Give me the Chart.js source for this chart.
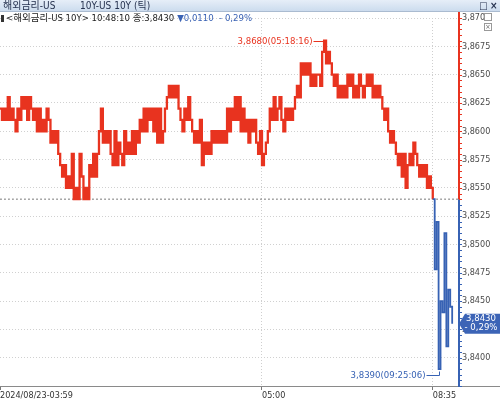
<!DOCTYPE html>
<html><head><meta charset="utf-8">
<script src="https://cdn.jsdelivr.net/npm/chart.js@4"></script>
<style>
html,body{margin:0;padding:0;background:#fff;}
#wrap{position:relative;width:500px;height:399px;overflow:hidden;font-family:"Liberation Sans Narrow","DejaVu Sans Condensed","Noto Sans CJK KR",sans-serif;}
#c{position:absolute;left:0;top:0;}
#bar{position:absolute;left:0;top:0;width:500px;height:11px;background:linear-gradient(#e6eef8,#ccdcee);border-bottom:1px solid #aabbd0;font-size:10px;line-height:11px;color:#26324f;}
#bar span{position:absolute;top:0;white-space:nowrap;}
#info{position:absolute;left:0;top:12px;height:11px;font-size:9.5px;line-height:11px;color:#222;white-space:nowrap;}
#info .blk{display:inline-block;width:3px;height:7px;background:#333;margin:0 2px 0 1px;vertical-align:-1px;}
#info .chg{color:#3a62b4;margin-left:3px;}
#icons{position:absolute;left:484px;top:13px;font-size:8px;line-height:8px;color:#666;}
#icons span{display:inline-block;width:6px;height:6px;border:1px solid #999;margin-right:1px;text-align:center;font-size:7px;line-height:6px;}
</style></head>
<body><div id="wrap">
<canvas id="c" width="500" height="399"></canvas>
<div id="bar"><span style="left:3px">해외금리-US</span><span style="left:80px">10Y-US 10Y (틱)</span><span style="left:479px;font-weight:bold">□</span><span style="left:490px;font-weight:bold">×</span></div>
<div id="info"></div>
<div id="icons"><span></span><span>×</span></div>
</div>
<script>
const yields = [
3.862,3.861,3.862,3.861,
3.863,
3.861,3.862,3.861,
3.860,3.862,
3.861,
3.863,3.862,3.863,3.861,3.863,3.862,
3.861,3.862,
3.860,3.862,3.860,
3.861,
3.860,3.862,3.861,
3.859,3.860,3.859,3.860,
3.858,3.857,
3.856,3.857,
3.855,3.856,3.855,3.858,3.854,3.855,3.854,3.858,3.856,3.854,3.855,3.854,
3.857,3.856,3.858,3.856,3.858,
3.860,3.862,
3.859,3.860,3.859,3.860,
3.858,3.857,3.860,3.857,3.859,3.858,3.857,3.860,3.858,
3.859,3.858,3.860,3.858,3.860,
3.859,3.861,
3.860,3.862,3.860,3.862,3.861,3.862,3.860,
3.862,3.859,3.862,3.859,
3.860,3.862,
3.863,
3.864,3.863,3.864,3.863,3.864,
3.862,3.861,3.860,3.862,3.861,3.863,3.861,
3.860,3.859,3.860,3.859,3.861,3.857,3.859,3.858,3.859,3.858,3.860,3.859,3.860,3.859,3.860,3.859,3.860,3.859,
3.862,3.860,3.862,
3.861,3.863,3.861,
3.863,3.860,3.862,
3.860,3.861,3.859,3.861,3.860,3.861,
3.859,3.858,3.860,
3.857,3.858,
3.859,3.860,
3.862,3.861,3.863,3.861,3.862,3.863,3.861,3.860,
3.862,3.861,3.862,3.861,3.862,
3.863,3.864,3.863,
3.866,3.865,3.866,3.865,3.866,
3.864,3.865,3.864,3.865,
3.865,3.864,
3.867,3.868,3.866,3.867,3.866,
3.865,3.864,3.865,
3.863,3.864,3.863,3.864,3.863,
3.865,3.864,3.865,
3.863,3.864,3.863,
3.865,3.864,3.863,3.864,3.865,3.864,3.865,
3.863,3.864,3.863,3.864,3.863,
3.862,3.861,3.862,
3.860,3.859,3.860,3.859,
3.858,3.857,3.858,
3.856,3.858,3.855,
3.857,3.858,3.857,3.859,3.858,3.857,
3.856,3.857,3.856,3.857,
3.855,3.856,3.855,
3.854,
3.8478,3.852,3.839,3.845,3.844,3.851,3.841,3.846,3.8445,3.843
];
const prevClose = 3.854;
const slotCount = 237;
const xTickIndex = [0, 135, 223];
const xTickLabels = ['2024/08/23-03:59', '05:00', '08:35'];
const yTickValues = [3.8375,3.8400,3.8425,3.8450,3.8475,3.8500,3.8525,3.8550,3.8575,3.8600,3.8625,3.8650,3.8675,3.8700];
const yTickLabels = ['','3,8400','3,8425','3,8450','3,8475','3,8500','3,8525','3,8550','3,8575','3,8600','3,8625','3,8650','3,8675','3,870'];
const lastPrice = '3,8430', lastTime = '10:48:10', changeText = '▼0,0110', pctText = '- 0,29%';
const seriesName = '<해외금리-US 10Y>';
const maxTime = '05:18:16', minTime = '09:25:06';

const RED = '#e8331f', BLUE = '#3762b4';
const FONT = '"Liberation Sans Narrow","DejaVu Sans Condensed","Noto Sans CJK KR",sans-serif';

document.getElementById('info').innerHTML =
  '<span class="blk"></span>' + seriesName.replace(/</g,'&lt;').replace(/>/g,'&gt;') + ' ' + lastTime + ' 종:' + lastPrice +
  '<span class="chg">' + changeText + '&nbsp; ' + pctText + '</span>';

const labels = Array.from({length: slotCount}, () => '');
const fmt = v => v.toFixed(4).replace('.', ',');
const below = c => c.p0.parsed.y < prevClose || c.p1.parsed.y < prevClose;

const deco = {
  id: 'deco',
  afterDraw(chart) {
    const {ctx, chartArea: a, scales: {x: xs, y: ys}} = chart;
    const prevY = ys.getPixelForValue(prevClose);
    ctx.save();
    ctx.strokeStyle = '#8a8a8a'; ctx.lineWidth = 1;
    ctx.beginPath(); ctx.moveTo(0, a.bottom + 0.5); ctx.lineTo(500, a.bottom + 0.5); ctx.stroke();
    const ax = a.right + 1;
    ctx.lineWidth = 2;
    ctx.strokeStyle = RED; ctx.beginPath(); ctx.moveTo(ax, 12); ctx.lineTo(ax, prevY); ctx.stroke();
    ctx.strokeStyle = BLUE; ctx.beginPath(); ctx.moveTo(ax, prevY); ctx.lineTo(ax, a.bottom + 1); ctx.stroke();
    ctx.lineWidth = 1;
    for (let k = 0; k <= 65; k++) {
      const v = 3.8375 + k * 0.0005;
      const py = Math.round(ys.getPixelForValue(v)) + 0.5;
      ctx.strokeStyle = v >= prevClose ? RED : BLUE;
      ctx.beginPath(); ctx.moveTo(ax, py); ctx.lineTo(ax + 3, py); ctx.stroke();
    }
    let maxI = 0, minI = 0;
    yields.forEach((v, i) => { if (v > yields[maxI]) maxI = i; if (v < yields[minI]) minI = i; });
    ctx.font = '9.5px ' + FONT;
    ctx.textBaseline = 'middle'; ctx.textAlign = 'right';
    const mx = Math.round(xs.getPixelForValue(maxI)) + 0.5, my = Math.round(ys.getPixelForValue(yields[maxI])) + 0.5;
    ctx.strokeStyle = RED; ctx.fillStyle = RED;
    ctx.beginPath(); ctx.moveTo(mx - 11, my); ctx.lineTo(mx, my); ctx.lineTo(mx, my + 3); ctx.stroke();
    ctx.fillText(fmt(yields[maxI]) + '(' + maxTime + ')', mx - 12, my);
    const nx = Math.round(xs.getPixelForValue(minI)) + 0.5, ny = Math.round(ys.getPixelForValue(yields[minI])) + 6.5;
    ctx.strokeStyle = BLUE; ctx.fillStyle = BLUE;
    ctx.beginPath(); ctx.moveTo(nx - 13, ny); ctx.lineTo(nx, ny); ctx.lineTo(nx, ny - 4); ctx.stroke();
    ctx.fillText(fmt(yields[minI]) + '(' + minTime + ')', nx - 14, ny);
    const ly = ys.getPixelForValue(yields[yields.length - 1]);
    ctx.fillStyle = '#3c64b6';
    ctx.beginPath();
    ctx.moveTo(ax, ly); ctx.lineTo(ax + 6, ly - 10); ctx.lineTo(500, ly - 10); ctx.lineTo(500, ly + 10); ctx.lineTo(ax + 6, ly + 10); ctx.closePath(); ctx.fill();
    ctx.fillStyle = '#fff'; ctx.textAlign = 'center';
    ctx.fillText(lastPrice, 481, ly - 5);
    ctx.fillText(pctText, 481, ly + 4);
    ctx.restore();
  }
};

new Chart(document.getElementById('c'), {
  type: 'line',
  data: {
    labels,
    datasets: [{
      data: yields,
      borderWidth: 2.3,
      borderColor: RED,
      pointRadius: 0,
      stepped: true,
      order: 1,
      segment: {
        borderColor: c => below(c) ? BLUE : RED,
        borderWidth: c => below(c) ? 1.8 : 2.3
      }
    }, {
      data: labels.map(() => prevClose),
      borderColor: '#777',
      borderWidth: 1,
      borderDash: [2, 2],
      pointRadius: 0,
      order: 2
    }]
  },
  options: {
    responsive: false,
    animation: false,
    events: [],
    layout: {padding: {top: 18, left: 0, right: 0, bottom: 0}},
    plugins: {legend: {display: false}, tooltip: {enabled: false}},
    scales: {
      x: {
        type: 'category',
        offset: false,
        afterBuildTicks: s => { s.ticks = xTickIndex.map(i => ({value: i})); },
        afterFit: s => { s.height = 13; },
        ticks: {
          autoSkip: false, maxRotation: 0, align: 'start', padding: 0,
          color: '#333', font: {family: FONT, size: 9},
          callback: (v, i) => xTickLabels[i]
        },
        grid: {
          color: c => c.index === 0 ? 'rgba(0,0,0,0)' : '#cfcfcf',
          tickColor: '#777', tickLength: 4, drawTicks: true
        },
        border: {display: false, dash: [1, 2]}
      },
      y: {
        position: 'right',
        min: 3.8375, max: 3.8700,
        afterBuildTicks: s => { s.ticks = yTickValues.map(v => ({value: v})); },
        afterFit: s => { s.width = 42; },
        ticks: {
          padding: 4, color: '#4a4a4a', font: {family: FONT, size: 9},
          callback: (v, i) => yTickLabels[i]
        },
        grid: {color: '#d0d0d0', drawTicks: false},
        border: {display: false, dash: [1, 2]}
      }
    }
  },
  plugins: [deco]
});
</script>
</body></html>
